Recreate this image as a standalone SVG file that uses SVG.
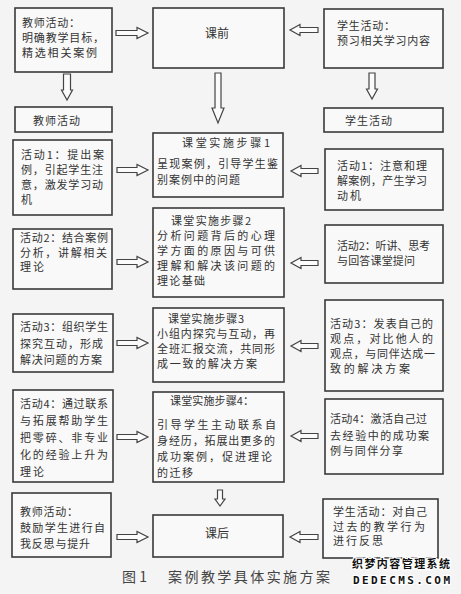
<svg xmlns="http://www.w3.org/2000/svg" width="461" height="594" viewBox="0 0 461 594">
<style>
.bx{fill:#f9f9f9;stroke:#3a3a3a;stroke-width:1.6}
.ar{fill:#fbfbfb;stroke:#444;stroke-width:1.2;stroke-linejoin:miter}
text{font-family:"Noto Sans CJK SC","Noto Sans",sans-serif;font-size:11px;fill:#333}
.c{text-anchor:middle;font-size:12px}
.cap{font-size:14px;fill:#444}
.wm{font-weight:bold;fill:#111;stroke:#fff;stroke-width:2.5px;paint-order:stroke}
.wm2{font-family:"DejaVu Sans Mono","Liberation Mono",monospace;font-size:11px}
</style>
<rect width="461" height="594" fill="#f4f4f4"/>

<g id="connectors">
<path class="ar" d="M116 30.5H137V27.5L148 33L137 38.5V35.5H116Z"/>
<path class="ar" d="M117 167.5H137V164.5L148 170L137 175.5V172.5H117Z"/>
<path class="ar" d="M117 259.5H137V256.5L148 262L137 267.5V264.5H117Z"/>
<path class="ar" d="M117 340.5H137V337.5L148 343L137 348.5V345.5H117Z"/>
<path class="ar" d="M117 434.5H137V431.5L148 437L137 442.5V439.5H117Z"/>
<path class="ar" d="M117 534.5H137V531.5L148 537L137 542.5V539.5H117Z"/>
<path class="ar" d="M318 27.5H300V24.5L290 30L300 35.5V32.5H318Z"/>
<path class="ar" d="M318 168.5H301V165.5L291 171L301 176.5V173.5H318Z"/>
<path class="ar" d="M318 260.5H301V257.5L291 263L301 268.5V265.5H318Z"/>
<path class="ar" d="M318 343.5H301V340.5L291 346L301 351.5V348.5H318Z"/>
<path class="ar" d="M318 433.5H301V430.5L291 436L301 441.5V438.5H318Z"/>
<path class="ar" d="M318 534.5H300V531.5L290 537L300 542.5V539.5H318Z"/>
<path class="ar" d="M63.5 74V90H61.5L67 100L72.5 90H70.5V74Z"/>
<path class="ar" d="M215 73V108H212L218 123L224 108H221V73Z"/>
<path class="ar" d="M369 73V89H366.5L372 99L377.5 89H375V73Z"/>
<path class="ar" d="M217.5 490V499H215L220 506L225 499H222.5V490Z"/>
</g>

<g id="teacher-prep"><rect class="bx" x="15" y="8" width="97" height="64"/>
<text x="22" y="26.5" textLength="58">教师活动：</text>
<text x="22" y="41.5" textLength="82">明确教学目标，</text>
<text x="22" y="57" textLength="75">精选相关案例</text></g>

<g id="teacher-label"><rect class="bx" x="15" y="107" width="97" height="25"/>
<text x="33" y="124.5" textLength="47">教师活动</text></g>

<g id="teacher-act1"><rect class="bx" x="13" y="140" width="99" height="75"/>
<text x="21" y="159" textLength="83">活动1：提出案</text>
<text x="21" y="173.5" textLength="82">例，引起学生注</text>
<text x="21" y="188.5" textLength="82">意，激发学习动</text>
<text x="21" y="203.5" textLength="12">机</text></g>

<g id="teacher-act2"><rect class="bx" x="13" y="229" width="99" height="60"/>
<text x="20" y="242" textLength="88">活动2：结合案例</text>
<text x="20" y="256.5" textLength="87">分析，讲解相关</text>
<text x="20" y="271" textLength="24">理论</text></g>

<g id="teacher-act3"><rect class="bx" x="13" y="314" width="100" height="58"/>
<text x="20" y="331" textLength="88">活动3：组织学生</text>
<text x="20" y="347.5" textLength="83">探究互动，形成</text>
<text x="20" y="364" textLength="82">解决问题的方案</text></g>

<g id="teacher-act4"><rect class="bx" x="13" y="390" width="100" height="92"/>
<text x="20" y="407.5" textLength="88">活动4：通过联系</text>
<text x="20" y="424.5" textLength="88">与拓展帮助学生</text>
<text x="20" y="441.5" textLength="88">把零碎、非专业</text>
<text x="20" y="458.5" textLength="88">化的经验上升为</text>
<text x="20" y="475.5" textLength="24">理论</text></g>

<g id="teacher-after"><rect class="bx" x="12" y="493" width="99" height="64"/>
<text x="20" y="516" textLength="58">教师活动：</text>
<text x="20" y="531.5" textLength="85">鼓励学生进行自</text>
<text x="20" y="547.5" textLength="70">我反思与提升</text></g>

<g id="before-class"><rect class="bx" x="153" y="8" width="131" height="60"/>
<text class="c" x="217" y="37.5">课前</text></g>

<g id="step1"><rect class="bx" x="153" y="133" width="130" height="64"/>
<text x="182" y="147" textLength="88">课堂实施步骤1</text>
<text x="157" y="167.5" textLength="121">呈现案例，引导学生鉴</text>
<text x="157" y="184" textLength="83">别案例中的问题</text></g>

<g id="step2"><rect class="bx" x="153" y="208" width="131" height="89"/>
<text x="171" y="225" textLength="80">课堂实施步骤2</text>
<text x="157" y="240" textLength="118">分析问题背后的心理</text>
<text x="157" y="255" textLength="118">学方面的原因与可供</text>
<text x="157" y="270" textLength="118">理解和解决该问题的</text>
<text x="157" y="285" textLength="48">理论基础</text></g>

<g id="step3"><rect class="bx" x="153" y="308" width="131" height="74"/>
<text x="168" y="322.5" textLength="76">课堂实施步骤3</text>
<text x="157" y="337.5" textLength="118">小组内探究与互动，再</text>
<text x="157" y="352.5" textLength="118">全班汇报交流，共同形</text>
<text x="157" y="367.5" textLength="100">成一致的解决方案</text></g>

<g id="step4"><rect class="bx" x="153" y="392" width="131" height="90"/>
<text x="170" y="404.5" textLength="84">课堂实施步骤4：</text>
<text x="157" y="429" textLength="119">引导学生主动联系自</text>
<text x="157" y="444.5" textLength="118">身经历，拓展出更多的</text>
<text x="157" y="460.5" textLength="115">成功案例，促进理论</text>
<text x="157" y="476.5" textLength="36">的迁移</text></g>

<g id="after-class"><rect class="bx" x="153" y="515" width="130" height="42"/>
<text class="c" x="217" y="537.5">课后</text></g>

<g id="student-prep"><rect class="bx" x="324" y="9" width="119" height="59"/>
<text x="337" y="29.5" textLength="58">学生活动：</text>
<text x="337" y="44.5" textLength="93">预习相关学习内容</text></g>

<g id="student-label"><rect class="bx" x="324" y="108" width="119" height="24"/>
<text x="345" y="124.5" textLength="47">学生活动</text></g>

<g id="student-act1"><rect class="bx" x="325" y="149" width="118" height="61"/>
<text x="337" y="169.5" textLength="90">活动1：注意和理</text>
<text x="337" y="184.5" textLength="90">解案例，产生学习</text>
<text x="337" y="199.5" textLength="24">动机</text></g>

<g id="student-act2"><rect class="bx" x="325" y="225" width="118" height="58"/>
<text x="337" y="250" textLength="93">活动2：听讲、思考</text>
<text x="337" y="264.5" textLength="78">与回答课堂提问</text></g>

<g id="student-act3"><rect class="bx" x="325" y="300" width="118" height="91"/>
<text x="330" y="327.5" textLength="103">活动3：发表自己的</text>
<text x="330" y="342.5" textLength="103">观点，对比他人的</text>
<text x="330" y="357.5" textLength="105">观点，与同伴达成一</text>
<text x="330" y="372.5" textLength="80">致的解决方案</text></g>

<g id="student-act4"><rect class="bx" x="325" y="399" width="118" height="75"/>
<text x="330" y="422.5" textLength="97">活动4：激活自己过</text>
<text x="330" y="439.5" textLength="99">去经验中的成功案</text>
<text x="330" y="455" textLength="73">例与同伴分享</text></g>

<g id="student-after"><rect class="bx" x="323" y="499" width="115" height="59"/>
<text x="333" y="516" textLength="94">学生活动：对自己</text>
<text x="333" y="530.5" textLength="92">过去的教学行为</text>
<text x="333" y="545" textLength="50">进行反思</text></g>

<g id="caption">
<text class="cap" y="581.5"><tspan x="122">图 1</tspan><tspan x="168" textLength="162">案例教学具体实施方案</tspan></text>
</g>

<g id="watermark">
<text class="wm" x="352" y="567.5" font-size="12" textLength="98">织梦内容管理系统</text>
<text class="wm wm2" x="353" y="584" textLength="97">DEDECMS.COM</text>
</g>
</svg>
